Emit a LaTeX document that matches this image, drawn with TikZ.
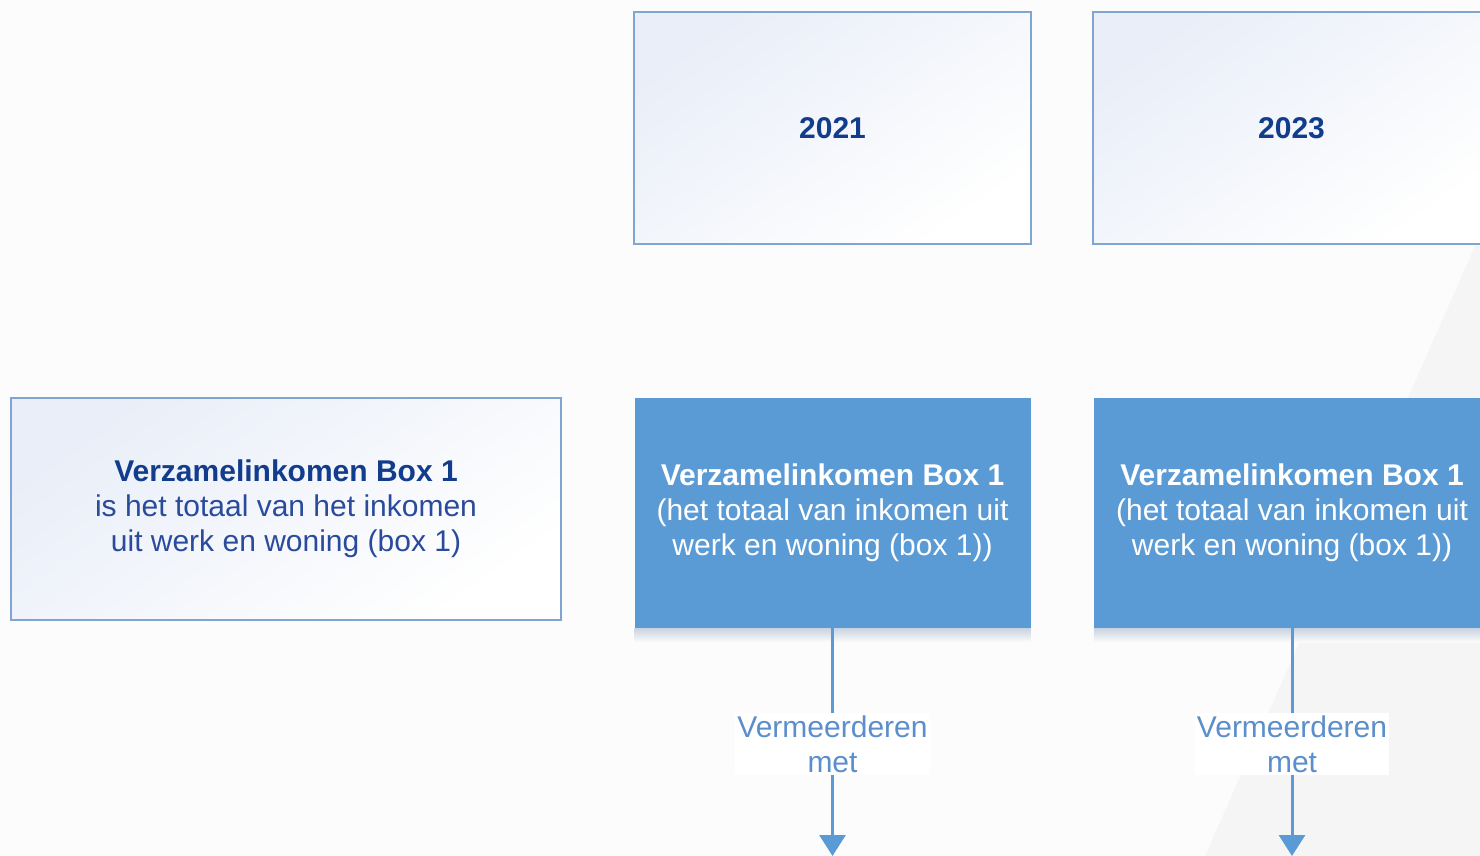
\documentclass[tikz,border=0pt]{standalone}
\usepackage{fontspec}
\setmainfont{Liberation Sans}
\usetikzlibrary{arrows.meta}
\definecolor{bgc}{HTML}{FCFCFC}
\definecolor{diagc}{HTML}{F5F5F5}
\definecolor{bordc}{HTML}{7FA5D2}
\definecolor{gradc}{HTML}{E9EEF8}
\definecolor{navy}{HTML}{123C8C}
\definecolor{navyl}{HTML}{2A4A9C}
\definecolor{bluebox}{HTML}{5B9BD5}
\definecolor{labc}{HTML}{5A8ECC}
\definecolor{shadc}{HTML}{C9D3DF}
\tikzset{
  txt/.style={font=\fontsize{30}{35}\selectfont},
  whitebox/.style={draw=bordc, line width=2pt, top color=gradc, bottom color=white, shading angle=35, align=center, inner sep=0pt, txt},
  bluebx/.style={fill=bluebox, text=white, align=center, inner sep=0pt, txt, minimum width=396pt, minimum height=230pt},
  shad/.style={top color=shadc, bottom color=bgc},
  lab/.style={fill=white, text=labc, align=center, inner sep=2pt, txt},
  conn/.style={draw=bluebox, line width=3pt},
  tip/.style={-{Triangle[width=26pt,length=21pt]}}
}
\begin{document}
\begin{tikzpicture}[x=1pt,y=-1pt]
\useasboundingbox (0,0) rectangle (1480,856);
\fill[bgc] (0,0) rectangle (1480,856);
\fill[diagc] (1205,856) -- (1480,235) -- (1480,856) -- cycle;
\begin{scope}
\clip (0,0) rectangle (1480,856);
\node[whitebox, minimum width=550pt, minimum height=222pt] (def) at (286,509)
  {\textcolor{navy}{\bfseries Verzamelinkomen Box 1}\\\textcolor{navyl}{is het totaal van het inkomen}\\\textcolor{navyl}{uit werk en woning (box 1)}};
\node[whitebox, minimum width=397pt, minimum height=232pt] (y1) at (832.5,128) {\textcolor{navy}{\bfseries 2021}};
\node[whitebox, minimum width=397pt, minimum height=232pt] (y2) at (1291.5,128) {\textcolor{navy}{\bfseries 2023}};
\node[bluebx] (b1) at (832.5,513) {{\bfseries Verzamelinkomen Box 1}\\(het totaal van inkomen uit\\werk en woning (box 1))};
\node[bluebx] (b2) at (1292,513) {{\bfseries Verzamelinkomen Box 1}\\(het totaal van inkomen uit\\werk en woning (box 1))};
\shade[shad] (b1.south west) rectangle ([yshift=-14pt]b1.south east);
\shade[shad] (b2.south west) rectangle ([yshift=-14pt]b2.south east);
\node[lab] (l1) at (832.5,744) {Vermeerderen\\met};
\node[lab] (l2) at (1292,744) {Vermeerderen\\met};
\coordinate (e1) at (832.5,856);
\coordinate (e2) at (1292,856);
\draw[conn] (b1.south) -- (l1.north);
\draw[conn, tip] (l1.south) -- (e1);
\draw[conn] (b2.south) -- (l2.north);
\draw[conn, tip] (l2.south) -- (e2);
\end{scope}
\end{tikzpicture}
\end{document}
